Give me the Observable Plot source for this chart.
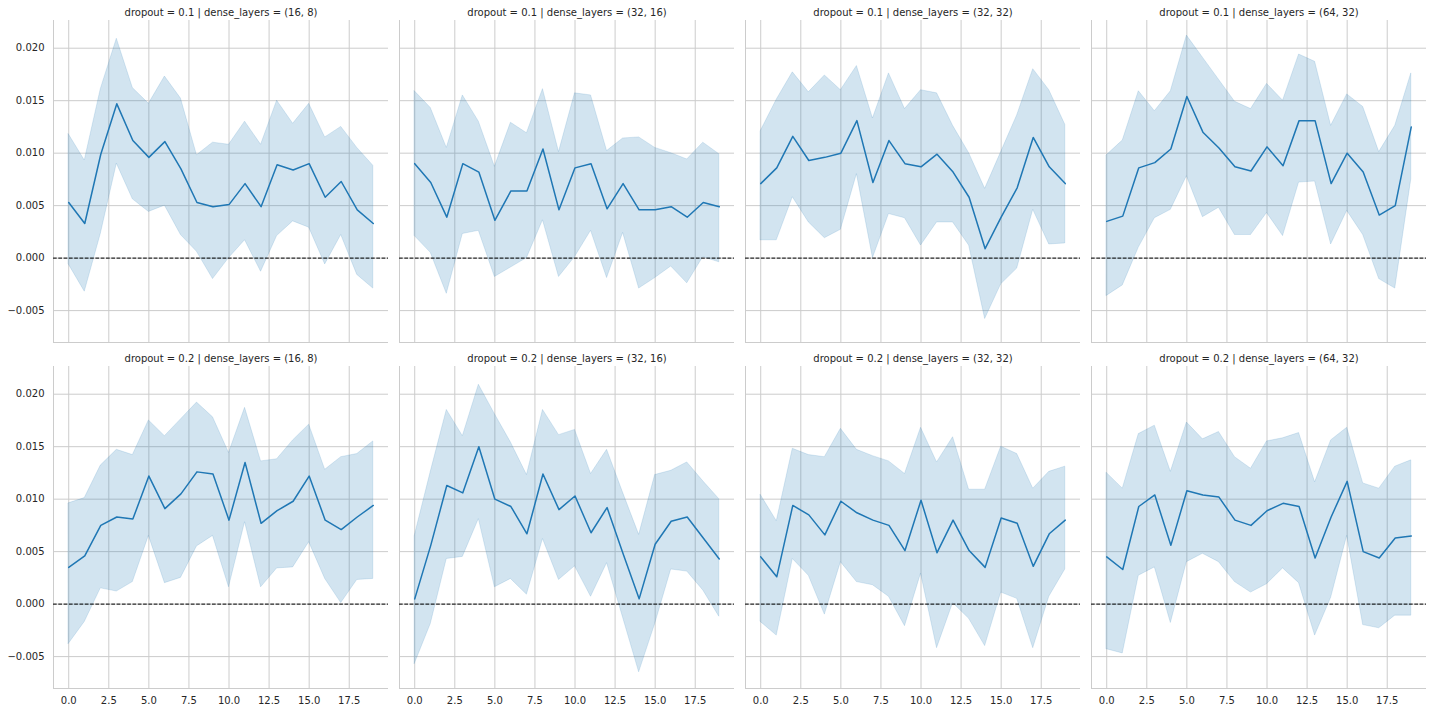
<!DOCTYPE html>
<html>
<head>
<meta charset="utf-8">
<script src="https://cdn.jsdelivr.net/npm/d3@7"></script>
<script src="https://cdn.jsdelivr.net/npm/@observablehq/plot@0.6"></script>
<style>
  html, body { margin: 0; padding: 0; background: white; }
</style>
</head>
<body>
<div id="chart"></div>
<script>
// ---- categories / ticks ----
const epochs = [0,1,2,3,4,5,6,7,8,9,10,11,12,13,14,15,16,17,18,19];
const dropouts = ["0.1", "0.2"];
const denseLayers = ["(16, 8)", "(32, 16)", "(32, 32)", "(64, 32)"];
const xTicks = [0, 2.5, 5, 7.5, 10, 12.5, 15, 17.5];
const yTicks = [-0.005, 0, 0.005, 0.010, 0.015, 0.020];

// ---- dropout = 0.1 ----
const mean_01_16_8 = [0.0053,0.0033,0.0099,0.0147,0.0112,0.0096,0.0111,0.0085,0.0053,0.0049,0.0051,0.0071,0.0049,0.0089,0.0084,0.0090,0.0058,0.0073,0.0046,0.0033];
const hi_01_16_8   = [0.0118,0.0093,0.0161,0.0209,0.0162,0.0147,0.0173,0.0152,0.0098,0.0110,0.0108,0.0130,0.0108,0.0150,0.0128,0.0147,0.0115,0.0125,0.0105,0.0088];
const lo_01_16_8   = [-0.0006,-0.0032,0.0023,0.0090,0.0056,0.0044,0.0050,0.0022,0.0006,-0.0020,0.0000,0.0017,-0.0013,0.0021,0.0035,0.0029,-0.0006,0.0022,-0.0016,-0.0029];

const mean_01_32_16 = [0.0090,0.0072,0.0039,0.0090,0.0082,0.0036,0.0064,0.0064,0.0104,0.0046,0.0086,0.0090,0.0047,0.0071,0.0046,0.0046,0.0049,0.0039,0.0053,0.0049];
const hi_01_32_16   = [0.0159,0.0143,0.0105,0.0155,0.0130,0.0087,0.0129,0.0119,0.0161,0.0101,0.0157,0.0155,0.0102,0.0114,0.0115,0.0105,0.0100,0.0094,0.0110,0.0099];
const lo_01_32_16   = [0.0021,0.0005,-0.0034,0.0023,0.0026,-0.0018,-0.0009,-0.0000,0.0036,-0.0018,0.0001,0.0026,-0.0019,0.0024,-0.0029,-0.0019,-0.0008,-0.0024,0.0001,-0.0004];

const mean_01_32_32 = [0.0071,0.0086,0.0116,0.0093,0.0096,0.0100,0.0131,0.0072,0.0112,0.0090,0.0087,0.0099,0.0082,0.0058,0.0009,0.0039,0.0067,0.0115,0.0087,0.0071];
const hi_01_32_32   = [0.0121,0.0151,0.0177,0.0158,0.0174,0.0160,0.0183,0.0133,0.0176,0.0142,0.0160,0.0157,0.0126,0.0100,0.0066,0.0101,0.0136,0.0180,0.0160,0.0127];
const lo_01_32_32   = [0.0017,0.0017,0.0058,0.0034,0.0019,0.0027,0.0080,0.0000,0.0042,0.0038,0.0012,0.0034,0.0034,0.0012,-0.0058,-0.0025,-0.0010,0.0046,0.0013,0.0014];

const mean_01_64_32 = [0.0035,0.0040,0.0086,0.0091,0.0104,0.0154,0.0120,0.0105,0.0087,0.0083,0.0106,0.0088,0.0131,0.0131,0.0071,0.0100,0.0082,0.0041,0.0050,0.0125];
const hi_01_64_32   = [0.0098,0.0112,0.0159,0.0140,0.0159,0.0212,0.0191,0.0170,0.0149,0.0142,0.0166,0.0150,0.0194,0.0187,0.0126,0.0156,0.0144,0.0101,0.0126,0.0176];
const lo_01_64_32   = [-0.0036,-0.0026,0.0010,0.0038,0.0046,0.0078,0.0039,0.0048,0.0022,0.0022,0.0043,0.0021,0.0072,0.0073,0.0013,0.0045,0.0022,-0.0020,-0.0029,0.0075];

// ---- dropout = 0.2 ----
const mean_02_16_8 = [0.0035,0.0046,0.0075,0.0083,0.0081,0.0122,0.0091,0.0105,0.0126,0.0124,0.0080,0.0135,0.0077,0.0089,0.0098,0.0122,0.0080,0.0071,0.0083,0.0094];
const hi_02_16_8   = [0.0096,0.0101,0.0132,0.0147,0.0142,0.0175,0.0160,0.0176,0.0192,0.0178,0.0144,0.0187,0.0136,0.0138,0.0156,0.0171,0.0128,0.0140,0.0143,0.0155];
const lo_02_16_8   = [-0.0038,-0.0017,0.0015,0.0012,0.0021,0.0065,0.0020,0.0025,0.0055,0.0065,0.0016,0.0078,0.0016,0.0034,0.0035,0.0059,0.0024,0.0001,0.0023,0.0024];

const mean_02_32_16 = [0.0005,0.0056,0.0113,0.0106,0.0150,0.0100,0.0093,0.0067,0.0124,0.0090,0.0103,0.0068,0.0092,0.0048,0.0005,0.0057,0.0079,0.0083,0.0063,0.0043];
const hi_02_32_16   = [0.0065,0.0126,0.0185,0.0160,0.0209,0.0181,0.0154,0.0123,0.0185,0.0161,0.0166,0.0124,0.0147,0.0106,0.0066,0.0123,0.0127,0.0135,0.0117,0.0100];
const lo_02_32_16   = [-0.0057,-0.0019,0.0043,0.0045,0.0081,0.0016,0.0024,0.0009,0.0062,0.0023,0.0036,0.0007,0.0039,-0.0013,-0.0065,-0.0019,0.0033,0.0031,0.0013,-0.0012];

const mean_02_32_32 = [0.0045,0.0026,0.0094,0.0085,0.0066,0.0098,0.0087,0.0080,0.0075,0.0051,0.0099,0.0049,0.0080,0.0051,0.0035,0.0082,0.0077,0.0036,0.0067,0.0080];
const hi_02_32_32   = [0.0104,0.0079,0.0148,0.0142,0.0140,0.0167,0.0147,0.0141,0.0136,0.0124,0.0168,0.0135,0.0159,0.0109,0.0109,0.0150,0.0143,0.0110,0.0126,0.0131];
const lo_02_32_32   = [-0.0017,-0.0030,0.0043,0.0027,-0.0010,0.0040,0.0021,0.0018,0.0007,-0.0021,0.0029,-0.0042,0.0001,-0.0014,-0.0040,0.0011,0.0005,-0.0042,0.0007,0.0033];

const mean_02_64_32 = [0.0045,0.0033,0.0093,0.0104,0.0056,0.0108,0.0104,0.0102,0.0080,0.0075,0.0089,0.0096,0.0093,0.0044,0.0083,0.0117,0.0050,0.0044,0.0063,0.0065];
const hi_02_64_32   = [0.0125,0.0110,0.0162,0.0170,0.0126,0.0173,0.0157,0.0164,0.0140,0.0129,0.0155,0.0158,0.0163,0.0116,0.0156,0.0168,0.0115,0.0110,0.0131,0.0137];
const lo_02_64_32   = [-0.0043,-0.0047,0.0027,0.0035,-0.0018,0.0040,0.0048,0.0040,0.0021,0.0011,0.0019,0.0034,0.0020,-0.0030,0.0006,0.0065,-0.0020,-0.0023,-0.0011,-0.0011];

// ---- assemble table ----
const panels = [
  {dropout: "0.1", layers: "(16, 8)",  mean: mean_01_16_8,  lo: lo_01_16_8,  hi: hi_01_16_8},
  {dropout: "0.1", layers: "(32, 16)", mean: mean_01_32_16, lo: lo_01_32_16, hi: hi_01_32_16},
  {dropout: "0.1", layers: "(32, 32)", mean: mean_01_32_32, lo: lo_01_32_32, hi: hi_01_32_32},
  {dropout: "0.1", layers: "(64, 32)", mean: mean_01_64_32, lo: lo_01_64_32, hi: hi_01_64_32},
  {dropout: "0.2", layers: "(16, 8)",  mean: mean_02_16_8,  lo: lo_02_16_8,  hi: hi_02_16_8},
  {dropout: "0.2", layers: "(32, 16)", mean: mean_02_32_16, lo: lo_02_32_16, hi: hi_02_32_16},
  {dropout: "0.2", layers: "(32, 32)", mean: mean_02_32_32, lo: lo_02_32_32, hi: hi_02_32_32},
  {dropout: "0.2", layers: "(64, 32)", mean: mean_02_64_32, lo: lo_02_64_32, hi: hi_02_64_32}
];
const rows = [];
for (const p of panels) {
  epochs.forEach((e, i) => rows.push({dropout: p.dropout, layers: p.layers, epoch: e, mean: p.mean[i], lo: p.lo[i], hi: p.hi[i]}));
}

const blue = "#1f77b4";
const gridColor = "#cccccc";
const yMin = -0.00804, yMax = 0.02264;

const chart = Plot.plot({
  width: 1432,
  height: 712,
  marginLeft: 52,
  marginRight: 6,
  marginTop: 20,
  marginBottom: 24,
  style: {fontFamily: "'DejaVu Sans', sans-serif", fontSize: "10px", color: "#262626", background: "white"},
  fx: {domain: denseLayers, paddingInner: 0.0318, paddingOuter: 0, axis: null, label: null},
  fy: {domain: dropouts, paddingInner: 0.0694, paddingOuter: 0, axis: null, label: null},
  x: {domain: [-0.95, 19.95], ticks: xTicks, tickFormat: d3.format(".1f"), tickSize: 0, tickPadding: 8, label: null},
  y: {domain: [yMin, yMax], ticks: yTicks, tickFormat: d3.format(".3f"), tickSize: 0, tickPadding: 9, label: null},
  marks: [
    Plot.ruleX(xTicks, {stroke: gridColor, strokeWidth: 1}),
    Plot.ruleY(yTicks, {stroke: gridColor, strokeWidth: 1}),
    Plot.ruleX([-0.95], {stroke: gridColor, strokeWidth: 1}),
    Plot.ruleY([yMin], {stroke: gridColor, strokeWidth: 1}),
    Plot.areaY(rows, {x: "epoch", y1: "lo", y2: "hi", fx: "layers", fy: "dropout", fill: blue, fillOpacity: 0.2, stroke: blue, strokeOpacity: 0.15, strokeWidth: 1}),
    Plot.lineY(rows, {x: "epoch", y: "mean", fx: "layers", fy: "dropout", stroke: blue, strokeWidth: 1.5}),
    Plot.ruleY([0], {stroke: "black", strokeWidth: 1, strokeDasharray: "3.7,1.6"}),
    Plot.text(panels, {fx: "layers", fy: "dropout", text: d => `dropout = ${d.dropout} | dense_layers = ${d.layers}`, frameAnchor: "top", lineAnchor: "middle", dy: -8, fill: "#262626", fontSize: 10})
  ]
});
document.getElementById("chart").appendChild(chart);
</script>
</body>
</html>
